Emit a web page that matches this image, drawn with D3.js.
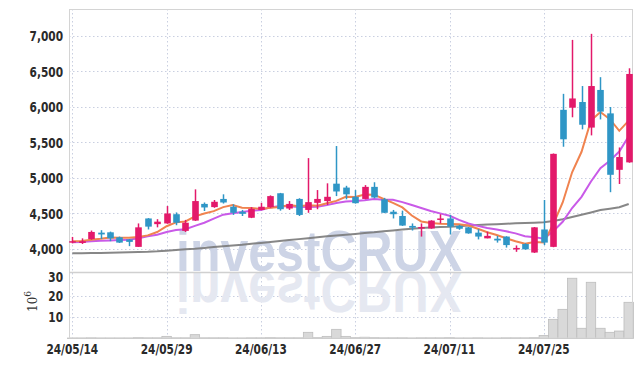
<!DOCTYPE html>
<html>
<head>
<meta charset="utf-8">
<script src="https://cdn.jsdelivr.net/npm/d3@7"></script>
<style>
  body { margin: 0; background: #fff; }
  svg text { font-family: "DejaVu Sans Condensed", "DejaVu Sans", sans-serif; }
</style>
</head>
<body>
<div id="chart_area"></div>
<script>
// trading days shown on the chart
var dates = ["24/05/14","24/05/16","24/05/17","24/05/20","24/05/21","24/05/22","24/05/23","24/05/24","24/05/27","24/05/28",
             "24/05/29","24/05/30","24/05/31","24/06/03","24/06/04","24/06/05","24/06/07","24/06/10","24/06/11","24/06/12",
             "24/06/13","24/06/14","24/06/17","24/06/18","24/06/19","24/06/20","24/06/21","24/06/24","24/06/25","24/06/26",
             "24/06/27","24/06/28","24/07/01","24/07/02","24/07/03","24/07/04","24/07/05","24/07/08","24/07/09","24/07/10",
             "24/07/11","24/07/12","24/07/15","24/07/16","24/07/17","24/07/18","24/07/19","24/07/22","24/07/23","24/07/24",
             "24/07/25","24/07/26","24/07/29","24/07/30","24/07/31","24/08/01","24/08/02","24/08/05","24/08/06","24/08/07"];

var opens  = [4090,4085,4140,4230,4235,4165,4135,4030,4430,4350, 4360,4490,4255,4400,4635,4590,4705,4595,4525,4440,
              4550,4590,4785,4570,4705,4550,4650,4675,4920,4865, 4735,4705,4875,4700,4525,4465,4325,4295,4290,4415,
              4430,4325,4305,4230,4150,4145,4175,3995,4070,3950, 4275,4030,5960,5990,6070,5710,6240,5910,5115,5220];
var highs  = [4170,4150,4260,4265,4245,4175,4140,4360,4435,4420, 4605,4515,4410,4840,4655,4690,4770,4630,4550,4590,
              4650,4755,4790,4675,4715,5280,4830,4925,5450,4890, 4830,4900,4940,4720,4550,4540,4360,4360,4405,4490,
              4480,4340,4310,4280,4245,4185,4180,4050,4080,4310, 4690,5345,6185,6945,6295,7030,6420,6000,5430,6545];
var lows   = [4080,4070,4130,4140,4110,4085,4040,4030,4275,4305, 4355,4335,4240,4395,4535,4580,4640,4480,4465,4435,
              4545,4580,4540,4550,4465,4510,4560,4620,4745,4700, 4640,4700,4715,4505,4430,4325,4260,4175,4285,4360,
              4205,4270,4215,4135,4150,4090,4020,3960,3990,3945, 4055,4025,5440,5855,5685,5600,5825,4800,4915,5215];
var closes = [4110,4110,4240,4205,4150,4090,4100,4305,4315,4385, 4500,4370,4370,4675,4585,4665,4655,4510,4495,4565,
              4595,4745,4560,4635,4480,4660,4705,4735,4810,4770, 4645,4875,4725,4510,4490,4330,4300,4310,4400,4430,
              4315,4285,4220,4175,4185,4120,4055,4015,3995,4305, 4090,5340,5545,6120,5750,6295,5935,5045,5295,6465];
// volume in millions of shares
var volumes = [0.2,0.2,0.3,0.2,0.2,0.2,0.2,0.4,0.3,0.3, 1.0,0.3,0.3,1.8,0.3,0.3,0.3,0.2,0.2,0.3,
               0.3,0.4,0.3,0.3,0.3,2.9,0.4,1.0,4.3,1.0, 0.4,0.6,0.4,0.3,0.3,0.3,0.2,0.3,0.3,0.3,
               0.4,0.2,0.2,0.3,0.2,0.2,0.3,0.3,0.3,0.4, 1.4,9.0,13.7,28.3,4.8,26.4,4.8,2.9,3.5,17.0];

// moving averages (5, 10 and long term)
var ma5  = [4110,4112,4130,4145,4163,4159,4157,4170,4192,4239, 4321,4375,4388,4460,4500,4533,4590,4618,4582,4578,
            4564,4582,4592,4620,4603,4616,4608,4643,4678,4736, 4733,4767,4765,4705,4649,4586,4471,4388,4366,4354,
            4351,4348,4330,4285,4236,4197,4151,4110,4074,4098, 4092,4349,4655,5080,5369,5810,5929,5829,5664,5807];
var ma10 = [4095,4100,4108,4115,4120,4125,4130,4150,4180,4201, 4240,4266,4279,4326,4370,4427,4483,4503,4521,4539,
            4549,4586,4605,4601,4591,4590,4595,4618,4649,4670, 4675,4688,4704,4692,4693,4660,4619,4577,4536,4502,
            4469,4410,4359,4326,4295,4274,4250,4220,4180,4167, 4145,4250,4383,4577,4734,4951,5139,5242,5372,5588];
var maLong = [3939,3941,3943,3945,3948,3951,3954,3958,3961,3967, 3976,3986,3996,4004,4015,4027,4038,4050,4060,4073,
              4086,4099,4112,4125,4139,4152,4165,4178,4190,4200, 4211,4224,4235,4249,4261,4274,4286,4297,4303,4309,
              4314,4322,4330,4338,4345,4350,4356,4361,4366,4370, 4376,4394,4420,4450,4483,4515,4549,4568,4587,4634];

var priceTicks = [4000,4500,5000,5500,6000,6500,7000];
var volumeTicks = [10,20,30];
var dateTicks = ["24/05/14","24/05/29","24/06/13","24/06/27","24/07/11","24/07/25"];

// chart frame
var frameW = 642, frameH = 366;
var plotLeft = 69, plotRight = 632, plotTop = 9, plotSplit = 272, plotBottom = 337.5;
var upColor = "#e3196a", downColor = "#2f96c6";

var svg = d3.select("#chart_area").append("svg")
    .attr("width", frameW)
    .attr("height", frameH);

var xScale = d3.scalePoint()
    .domain(d3.range(dates.length))
    .range([plotLeft, plotRight])
    .padding(0.35);
var step = xScale.step();

var yScale = d3.scaleLinear()
    .domain([3676, 7380])
    .range([plotSplit, plotTop]);

var vScale = d3.scaleLinear()
    .domain([0, 31])
    .range([338.5, 272.5]);

var gridColor = "#c9cfe0";

// horizontal grid lines
svg.append("g").selectAll("line")
    .data(priceTicks)
    .enter().append("line")
    .attr("x1", plotLeft).attr("x2", plotRight)
    .attr("y1", function(d){ return Math.round(yScale(d)) + 0.5; })
    .attr("y2", function(d){ return Math.round(yScale(d)) + 0.5; })
    .attr("stroke", gridColor)
    .attr("stroke-dasharray", "1.5,2.5");
svg.append("g").selectAll("line")
    .data(volumeTicks.slice(0, 2))
    .enter().append("line")
    .attr("x1", plotLeft).attr("x2", plotRight)
    .attr("y1", function(d){ return Math.round(vScale(d)) + 0.5; })
    .attr("y2", function(d){ return Math.round(vScale(d)) + 0.5; })
    .attr("stroke", gridColor)
    .attr("stroke-dasharray", "1.5,2.5");

// vertical grid lines at the date ticks
svg.append("g").selectAll("line")
    .data(dateTicks)
    .enter().append("line")
    .attr("x1", function(d){ return Math.round(xScale(dates.indexOf(d))) + 0.5; })
    .attr("x2", function(d){ return Math.round(xScale(dates.indexOf(d))) + 0.5; })
    .attr("y1", plotTop).attr("y2", plotBottom)
    .attr("stroke", gridColor)
    .attr("stroke-dasharray", "1.5,2.5");

// watermark and its reflection
var mark = svg.append("g");
mark.append("text")
    .attr("x", 176).attr("y", 271)
    .attr("textLength", 286)
    .attr("lengthAdjust", "spacingAndGlyphs")
    .style("font-family", "'Liberation Sans', Arial, sans-serif")
    .style("font-weight", "bold")
    .style("font-size", "58px")
    .attr("fill", "#cdd4e6")
    .text("investCRUX");
mark.append("text")
    .attr("x", 176).attr("y", 271)
    .attr("transform", "translate(0,543) scale(1,-1)")
    .attr("textLength", 286)
    .attr("lengthAdjust", "spacingAndGlyphs")
    .style("font-family", "'Liberation Sans', Arial, sans-serif")
    .style("font-weight", "bold")
    .style("font-size", "58px")
    .attr("fill", "#e5e8f1")
    .text("investCRUX");

// volume bars
svg.append("g").selectAll("rect")
    .data(volumes)
    .enter().append("rect")
    .attr("x", function(d, i){ return xScale(i) - step / 2; })
    .attr("width", step)
    .attr("y", function(d){ return vScale(d); })
    .attr("height", function(d){ return vScale(0) - vScale(d); })
    .attr("fill", "#d9d9d9")
    .attr("stroke", "#bdbdbd")
    .attr("stroke-width", 0.8);

// frame lines
svg.append("rect")
    .attr("x", plotLeft + 0.5).attr("y", plotTop + 0.5)
    .attr("width", plotRight - plotLeft).attr("height", plotBottom - plotTop)
    .attr("fill", "none")
    .attr("stroke", "#d4d4d4");
svg.append("line")
    .attr("x1", plotLeft).attr("x2", plotRight)
    .attr("y1", plotSplit + 0.5).attr("y2", plotSplit + 0.5)
    .attr("stroke", "#d0d0d0")
    .attr("stroke-width", 1.5);

// moving average lines
var line = function(values){
    return d3.line()
        .x(function(d, i){ return xScale(i); })
        .y(function(d){ return yScale(d); })(values);
};
svg.append("path").attr("d", line(maLong))
    .attr("fill", "none").attr("stroke", "#7a7a7a").attr("stroke-width", 2).attr("opacity", 0.9);
svg.append("path").attr("d", line(ma10))
    .attr("fill", "none").attr("stroke", "#c95ae8").attr("stroke-width", 2);
svg.append("path").attr("d", line(ma5))
    .attr("fill", "none").attr("stroke", "#f0834f").attr("stroke-width", 2);

// candles
var candles = svg.append("g").selectAll("g")
    .data(dates)
    .enter().append("g");
candles.append("line")
    .attr("x1", function(d, i){ return Math.round(xScale(i)) + 0.5; })
    .attr("x2", function(d, i){ return Math.round(xScale(i)) + 0.5; })
    .attr("y1", function(d, i){ return yScale(highs[i]); })
    .attr("y2", function(d, i){ return yScale(lows[i]); })
    .attr("stroke", function(d, i){ return closes[i] >= opens[i] ? upColor : downColor; })
    .attr("stroke-width", 1.5);
candles.append("rect")
    .attr("x", function(d, i){ return Math.round(xScale(i)) + 0.5 - 3.3; })
    .attr("width", 6.6)
    .attr("y", function(d, i){ return yScale(Math.max(opens[i], closes[i])); })
    .attr("height", function(d, i){ return Math.max(1.5, Math.abs(yScale(opens[i]) - yScale(closes[i]))); })
    .attr("fill", function(d, i){ return closes[i] >= opens[i] ? upColor : downColor; });

// axis labels (squeezed horizontally to look condensed)
var labelColor = "#2a2a2a";
var squeeze = 0.84;
svg.append("g").selectAll("text")
    .data(priceTicks)
    .enter().append("text")
    .attr("transform", function(d){ return "translate(63," + yScale(d) + ") scale(" + squeeze + ",1)"; })
    .attr("dy", "0.36em")
    .attr("text-anchor", "end")
    .attr("fill", labelColor)
    .style("font-size", "14px")
    .style("font-weight", "bold")
    .text(d3.format(","));
svg.append("g").selectAll("text")
    .data(volumeTicks)
    .enter().append("text")
    .attr("transform", function(d){ return "translate(63," + (d == 30 ? 276.5 : vScale(d)) + ") scale(" + squeeze + ",1)"; })
    .attr("dy", "0.36em")
    .attr("text-anchor", "end")
    .attr("fill", labelColor)
    .style("font-size", "14px")
    .style("font-weight", "bold")
    .text(function(d){ return d; });
svg.append("g").selectAll("text")
    .data(dateTicks)
    .enter().append("text")
    .attr("transform", function(d){ return "translate(" + xScale(dates.indexOf(d)) + ",354) scale(" + squeeze + ",1)"; })
    .attr("text-anchor", "middle")
    .attr("fill", labelColor)
    .style("font-size", "14px")
    .style("font-weight", "bold")
    .text(function(d){ return d; });

// volume unit
var unit = svg.append("text")
    .attr("transform", "translate(37,312) rotate(-90)")
    .attr("fill", "#333")
    .style("font-family", "'DejaVu Serif', serif")
    .style("font-size", "12px");
unit.append("tspan").text("10");
unit.append("tspan").attr("dy", "-6").style("font-size", "9px").text("6");
</script>
</body>
</html>
